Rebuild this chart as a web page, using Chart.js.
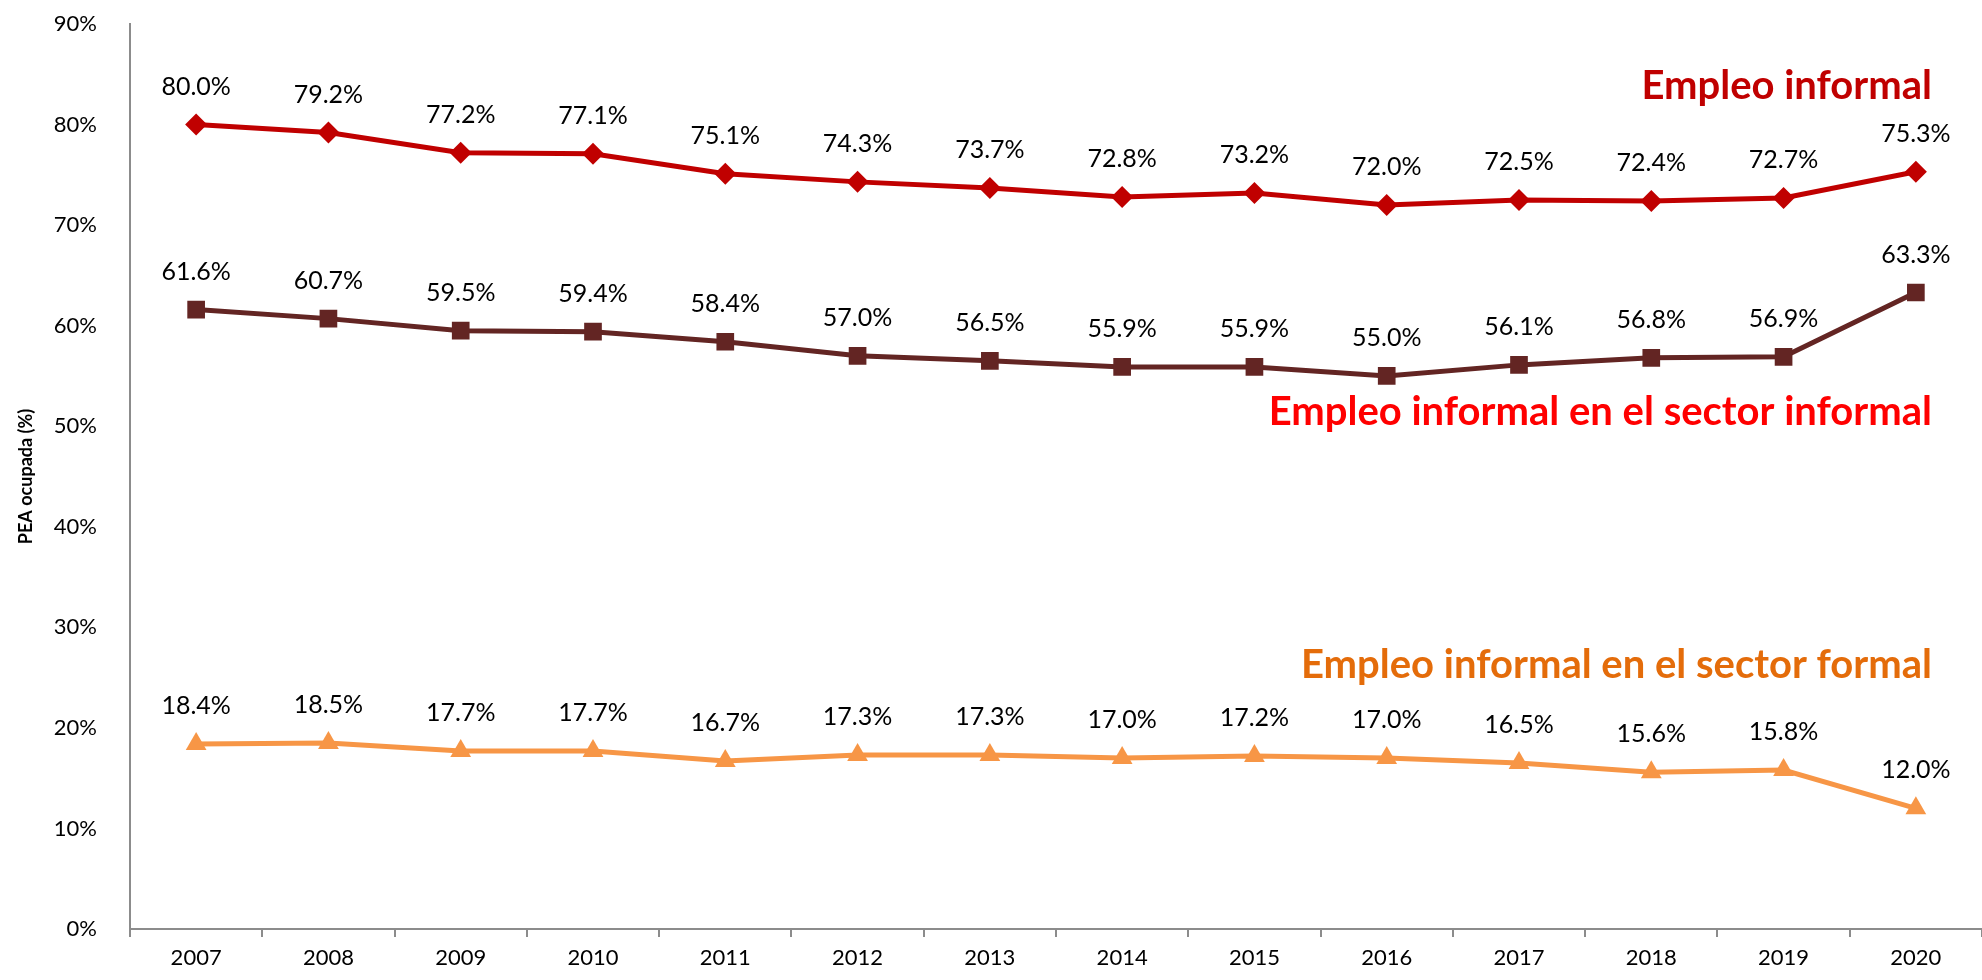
<!DOCTYPE html>
<html>
<head>
<meta charset="utf-8">
<script src="https://cdn.jsdelivr.net/npm/chart.js@4/dist/chart.umd.min.js"></script>
<style>
  html, body { margin: 0; padding: 0; background: #fff; overflow: hidden; }
  #wrap { width: 1982px; height: 980px; position: relative; }
</style>
</head>
<body>
<div id="wrap"><canvas id="myChart"></canvas></div>
<script>
  const years = ['2007', '2008', '2009', '2010', '2011', '2012', '2013', '2014', '2015', '2016', '2017', '2018', '2019', '2020'];
  const empleoInformal = [80.0, 79.2, 77.2, 77.1, 75.1, 74.3, 73.7, 72.8, 73.2, 72.0, 72.5, 72.4, 72.7, 75.3];
  const sectorInformal = [61.6, 60.7, 59.5, 59.4, 58.4, 57.0, 56.5, 55.9, 55.9, 55.0, 56.1, 56.8, 56.9, 63.3];
  const sectorFormal = [18.4, 18.5, 17.7, 17.7, 16.7, 17.3, 17.3, 17.0, 17.2, 17.0, 16.5, 15.6, 15.8, 12.0];
  const yTicks = [0, 10, 20, 30, 40, 50, 60, 70, 80, 90];
  const seriesNames = ['Empleo informal', 'Empleo informal en el sector informal', 'Empleo informal en el sector formal'];

  const fontFam = 'Lato, "Open Sans", sans-serif';
  const axisGray = '#8c8c8c';

  // valores encima de cada punto
  const valueLabels = {
    id: 'valueLabels',
    afterDatasetsDraw(chart) {
      const c = chart.ctx;
      c.save();
      c.font = '25px ' + fontFam;
      c.fillStyle = '#000';
      c.textAlign = 'center';
      c.textBaseline = 'middle';
      chart.data.datasets.forEach((ds, i) => {
        chart.getDatasetMeta(i).data.forEach((pt, j) => {
          c.fillText(ds.data[j].toFixed(1) + '%', pt.x, pt.y - 38);
        });
      });
      c.restore();
    }
  };

  // nombres de las series a la derecha
  const seriesTitles = {
    id: 'seriesTitles',
    afterDraw(chart) {
      const c = chart.ctx;
      const y = chart.scales.y;
      const spots = [[seriesNames[0], 83.8, '#C00000'], [seriesNames[1], 51.4, '#FF0000'], [seriesNames[2], 26.2, '#E46C0A']];
      c.save();
      c.font = 'bold 40px ' + fontFam;
      c.textAlign = 'right';
      c.textBaseline = 'middle';
      spots.forEach(s => {
        c.fillStyle = s[2];
        c.fillText(s[0], 1932, y.getPixelForValue(s[1]));
      });
      c.restore();
    }
  };

  const ctx = document.getElementById('myChart');
  new Chart(ctx, {
    type: 'line',
    data: {
      labels: years,
      datasets: [{
        label: seriesNames[0],
        data: empleoInformal,
        borderColor: '#C00000',
        backgroundColor: '#C00000',
        borderWidth: 5,
        pointStyle: 'rectRot',
        pointRadius: 11,
        pointBorderWidth: 0
      }, {
        label: seriesNames[1],
        data: sectorInformal,
        borderColor: '#632523',
        backgroundColor: '#632523',
        borderWidth: 5,
        pointStyle: 'rect',
        pointRadius: 12.5,
        pointBorderWidth: 0
      }, {
        label: seriesNames[2],
        data: sectorFormal,
        borderColor: '#F79646',
        backgroundColor: '#F79646',
        borderWidth: 5,
        pointStyle: 'triangle',
        pointRadius: 12,
        pointBorderWidth: 0
      }]
    },
    options: {
      responsive: true,
      maintainAspectRatio: false,
      animation: false,
      layout: { autoPadding: false, padding: { top: 24, right: -4, left: 0, bottom: 0 } },
      plugins: {
        legend: { display: false },
        tooltip: { enabled: false }
      },
      scales: {
        x: {
          offset: true,
          grid: { display: true, offset: true, drawOnChartArea: false, drawTicks: true, tickLength: 8, color: axisGray, lineWidth: 2 },
          border: { display: true, color: axisGray, width: 2 },
          ticks: { color: '#000', font: { family: fontFam, size: 22 }, padding: 8, maxRotation: 0 },
          afterFit: s => { s.height = 51; s.paddingLeft = 0; s.paddingRight = 0; }
        },
        y: {
          min: 0,
          max: 90,
          afterBuildTicks: s => { s.ticks = yTicks.map(v => ({ value: v })); },
          grid: { display: false },
          border: { display: true, color: axisGray, width: 2 },
          ticks: { color: '#000', font: { family: fontFam, size: 22 }, padding: 25, callback: v => v + '%' },
          title: { display: true, text: 'PEA ocupada (%)', color: '#000', font: { family: fontFam, size: 18, weight: 'bold' }, padding: 15 },
          afterFit: s => { s.width = 130; s.paddingTop = 0; s.paddingBottom = 0; }
        }
      }
    },
    plugins: [valueLabels, seriesTitles]
  });
</script>
</body>
</html>
